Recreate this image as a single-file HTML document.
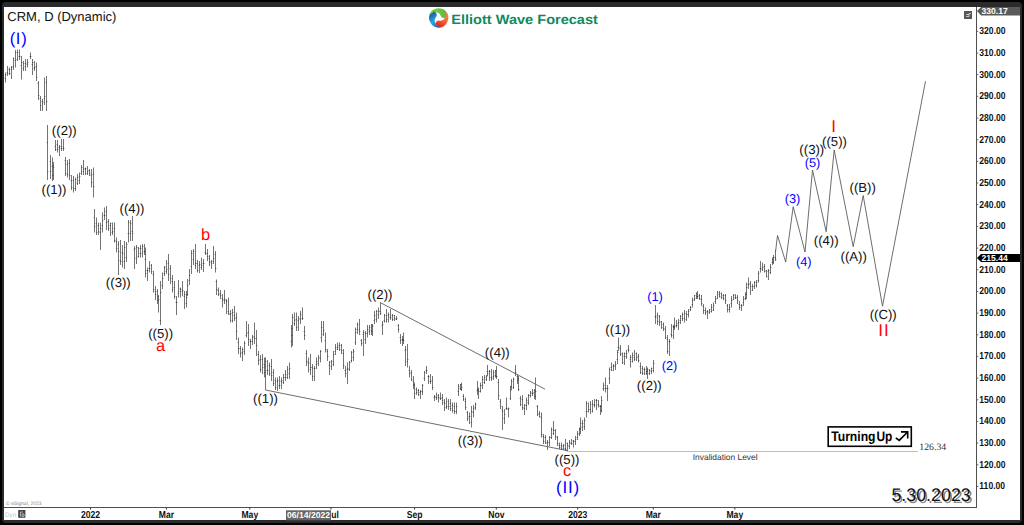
<!DOCTYPE html>
<html><head><meta charset="utf-8"><title>CRM Elliott Wave</title>
<style>
html,body{margin:0;padding:0;background:#000;}
#f{position:relative;width:1024px;height:525px;background:#000;overflow:hidden;font-family:"Liberation Sans",sans-serif;}
#g{position:absolute;left:2px;top:2.2px;width:1020px;height:520.5px;background:#2b2b2b;border-radius:4px;}
#w{position:absolute;left:4px;top:7px;width:1016px;height:513px;background:#fff;}
svg{position:absolute;left:0;top:0;}
text{font-family:"Liberation Sans",sans-serif;text-rendering:geometricPrecision;}
.ax{font-size:8.6px;font-weight:bold;fill:#111;}
.k{font-size:13.2px;fill:#111;}
.b{font-size:12.8px;fill:#0000ff;}
.B2{font-size:16.5px;fill:#0000ff;letter-spacing:0.7px;}
.r{font-size:16.4px;fill:#ff0000;}
.B3{font-size:17px;fill:#0000ff;letter-spacing:0.8px;}
.R2{font-size:17px;fill:#ff0000;letter-spacing:1px;}
</style></head><body>
<div id="f"><div id="g"></div><div id="w"></div>
<svg width="1024" height="525" viewBox="0 0 1024 525">
<defs>
<linearGradient id="gg" gradientUnits="userSpaceOnUse" x1="-9" y1="0" x2="8" y2="0"><stop offset="0" stop-color="#8ccb45"/><stop offset="1" stop-color="#5cb847"/></linearGradient>
<linearGradient id="gb" gradientUnits="userSpaceOnUse" x1="-9" y1="0" x2="8" y2="0"><stop offset="0" stop-color="#1d62ad"/><stop offset="0.5" stop-color="#2aa7e0"/><stop offset="1" stop-color="#1b58a3"/></linearGradient>
<linearGradient id="gr" gradientUnits="userSpaceOnUse" x1="-9" y1="0" x2="8" y2="0"><stop offset="0" stop-color="#f68c4c"/><stop offset="0.5" stop-color="#f2673a"/><stop offset="1" stop-color="#e5221b"/></linearGradient>
<clipPath id="tc"><rect x="-10" y="-8" width="4.6" height="8"/></clipPath>
<filter id="sh" x="-10%" y="-20%" width="130%" height="160%"><feGaussianBlur stdDeviation="0.6"/></filter>
</defs>
<!-- axes -->
<path d="M976.5 7V507.5M4 507.5H977" stroke="#505050" stroke-width="1" fill="none"/>
<text transform="translate(979.3 34.1) scale(1 1.17)" class="ax">320.00</text>
<path d="M977 31.3h1.3" stroke="#666" stroke-width="1"/>
<text transform="translate(979.3 55.8) scale(1 1.17)" class="ax">310.00</text>
<path d="M977 53.0h1.3" stroke="#666" stroke-width="1"/>
<text transform="translate(979.3 77.5) scale(1 1.17)" class="ax">300.00</text>
<path d="M977 74.7h1.3" stroke="#666" stroke-width="1"/>
<text transform="translate(979.3 99.1) scale(1 1.17)" class="ax">290.00</text>
<path d="M977 96.3h1.3" stroke="#666" stroke-width="1"/>
<text transform="translate(979.3 120.8) scale(1 1.17)" class="ax">280.00</text>
<path d="M977 118.0h1.3" stroke="#666" stroke-width="1"/>
<text transform="translate(979.3 142.5) scale(1 1.17)" class="ax">270.00</text>
<path d="M977 139.7h1.3" stroke="#666" stroke-width="1"/>
<text transform="translate(979.3 164.2) scale(1 1.17)" class="ax">260.00</text>
<path d="M977 161.4h1.3" stroke="#666" stroke-width="1"/>
<text transform="translate(979.3 185.8) scale(1 1.17)" class="ax">250.00</text>
<path d="M977 183.0h1.3" stroke="#666" stroke-width="1"/>
<text transform="translate(979.3 207.5) scale(1 1.17)" class="ax">240.00</text>
<path d="M977 204.7h1.3" stroke="#666" stroke-width="1"/>
<text transform="translate(979.3 229.2) scale(1 1.17)" class="ax">230.00</text>
<path d="M977 226.4h1.3" stroke="#666" stroke-width="1"/>
<text transform="translate(979.3 250.9) scale(1 1.17)" class="ax">220.00</text>
<path d="M977 248.1h1.3" stroke="#666" stroke-width="1"/>
<text transform="translate(979.3 272.5) scale(1 1.17)" class="ax">210.00</text>
<path d="M977 269.7h1.3" stroke="#666" stroke-width="1"/>
<text transform="translate(979.3 294.2) scale(1 1.17)" class="ax">200.00</text>
<path d="M977 291.4h1.3" stroke="#666" stroke-width="1"/>
<text transform="translate(979.3 315.9) scale(1 1.17)" class="ax">190.00</text>
<path d="M977 313.1h1.3" stroke="#666" stroke-width="1"/>
<text transform="translate(979.3 337.6) scale(1 1.17)" class="ax">180.00</text>
<path d="M977 334.8h1.3" stroke="#666" stroke-width="1"/>
<text transform="translate(979.3 359.2) scale(1 1.17)" class="ax">170.00</text>
<path d="M977 356.4h1.3" stroke="#666" stroke-width="1"/>
<text transform="translate(979.3 380.9) scale(1 1.17)" class="ax">160.00</text>
<path d="M977 378.1h1.3" stroke="#666" stroke-width="1"/>
<text transform="translate(979.3 402.6) scale(1 1.17)" class="ax">150.00</text>
<path d="M977 399.8h1.3" stroke="#666" stroke-width="1"/>
<text transform="translate(979.3 424.2) scale(1 1.17)" class="ax">140.00</text>
<path d="M977 421.4h1.3" stroke="#666" stroke-width="1"/>
<text transform="translate(979.3 445.9) scale(1 1.17)" class="ax">130.00</text>
<path d="M977 443.1h1.3" stroke="#666" stroke-width="1"/>
<text transform="translate(979.3 467.6) scale(1 1.17)" class="ax">120.00</text>
<path d="M977 464.8h1.3" stroke="#666" stroke-width="1"/>
<text transform="translate(979.3 489.3) scale(1 1.17)" class="ax">110.00</text>
<path d="M977 486.5h1.3" stroke="#666" stroke-width="1"/>
<text transform="translate(90.5 518.2) scale(1 1.17)" class="ax" text-anchor="middle">2022</text>
<path d="M90.5 507.5v2" stroke="#333" stroke-width="1"/>
<text transform="translate(166.4 518.2) scale(1 1.17)" class="ax" text-anchor="middle">Mar</text>
<path d="M166.4 507.5v2" stroke="#333" stroke-width="1"/>
<text transform="translate(249.8 518.2) scale(1 1.17)" class="ax" text-anchor="middle">May</text>
<path d="M249.8 507.5v2" stroke="#333" stroke-width="1"/>
<text transform="translate(414.6 518.2) scale(1 1.17)" class="ax" text-anchor="middle">Sep</text>
<path d="M414.6 507.5v2" stroke="#333" stroke-width="1"/>
<text transform="translate(496.3 518.2) scale(1 1.17)" class="ax" text-anchor="middle">Nov</text>
<path d="M496.3 507.5v2" stroke="#333" stroke-width="1"/>
<text transform="translate(577.7 518.2) scale(1 1.17)" class="ax" text-anchor="middle">2023</text>
<path d="M577.7 507.5v2" stroke="#333" stroke-width="1"/>
<text transform="translate(653.3 518.2) scale(1 1.17)" class="ax" text-anchor="middle">Mar</text>
<path d="M653.3 507.5v2" stroke="#333" stroke-width="1"/>
<text transform="translate(734.8 518.2) scale(1 1.17)" class="ax" text-anchor="middle">May</text>
<path d="M734.8 507.5v2" stroke="#333" stroke-width="1"/>
<path d="M331 507.5v2" stroke="#333" stroke-width="1"/>
<text transform="translate(331.3 518.2) scale(1 1.17)" class="ax">ul</text>
<!-- top price tag -->
<path d="M977 11l4 -4H1020V15.5H981z" fill="#5a5a5a"/>
<text x="981.5" y="13.9" class="ax" style="fill:#fff">330.17</text>
<rect x="964" y="11" width="8" height="8" fill="#555"/>
<path d="M966 16.5h3v-3h2M966 14.5h3" stroke="#ddd" stroke-width="0.8" fill="none"/>
<!-- current price tag -->
<path d="M977 258l4 -4H1020V262H981z" fill="#000"/>
<text x="981.5" y="261.2" class="ax" style="fill:#fff">215.44</text>
<!-- title -->
<text x="7.3" y="20.8" style="font-size:13px;fill:#111">CRM, D (Dynamic)</text>
<!-- logo -->
<g transform="translate(438.7 17.9)">
<g id="blade"><path d="M-9.27 -2.48 A9.6 9.6 0 0 1 9.02 -3.28 A3.7 3.7 0 0 1 1.8 -2.4 C0.5 -6.3 -6.5 -6.8 -9.27 -2.48z" fill="url(#gg)"/></g>
<path d="M-9.27 -2.48 A9.6 9.6 0 0 1 9.02 -3.28 A3.7 3.7 0 0 1 1.8 -2.4 C0.5 -6.3 -6.5 -6.8 -9.27 -2.48z" fill="url(#gr)" transform="rotate(120)"/>
<path d="M-9.27 -2.48 A9.6 9.6 0 0 1 9.02 -3.28 A3.7 3.7 0 0 1 1.8 -2.4 C0.5 -6.3 -6.5 -6.8 -9.27 -2.48z" fill="url(#gb)" transform="rotate(240)"/>
<path d="M-9.27 -2.48 A9.6 9.6 0 0 1 9.02 -3.28 A3.7 3.7 0 0 1 1.8 -2.4 C0.5 -6.3 -6.5 -6.8 -9.27 -2.48z" fill="url(#gg)" clip-path="url(#tc)"/>
</g>
<text x="451.3" y="23.5" style="font-size:13.3px;font-weight:bold;fill:#12895d" textLength="146.6" lengthAdjust="spacingAndGlyphs">Elliott Wave Forecast</text>
<!-- bars -->
<path d="M5.5 72.5V82.5M7.5 66.0V76.0M9.5 67.5V75.0M11.5 66.0V79.0M13.5 57.5V70.0M15.5 50.0V67.5M17.5 49.5V61.0M19.5 49.5V60.0M21.5 56.0V79.5M23.5 61.0V71.0M25.5 59.0V71.0M27.5 59.0V67.5M30.5 52.5V59.0M32.5 59.0V75.0M34.5 61.0V71.0M36.5 62.5V81.0M38.5 81.0V100.0M40.5 96.0V111.0M42.5 99.0V111.0M44.5 77.5V105.0M46.5 76.0V111.0M47.5 125.0V180.0M50.5 155.0V179.0M52.5 157.5V181.0M53.5 162.0V180.0M55.5 140.0V151.0M57.5 140.0V152.5M59.5 145.0V156.0M61.5 139.0V151.0M63.5 139.0V151.0M65.5 157.0V176.0M67.5 160.0V177.5M69.5 159.0V180.0M71.5 175.0V190.0M73.5 176.0V192.5M75.5 177.5V191.0M77.5 174.0V185.0M79.5 172.5V184.0M81.5 165.0V175.0M83.5 160.0V175.0M85.5 167.5V175.0M87.5 166.0V175.0M89.5 169.0V176.0M91.5 169.0V187.5M93.5 167.5V197.5M94.5 209.0V232.5M96.5 217.5V235.0M98.5 222.5V235.0M100.5 222.5V250.0M102.5 212.5V232.5M104.5 207.5V220.0M106.5 206.0V230.0M108.5 219.0V231.0M110.5 222.5V236.0M112.5 222.5V235.0M114.5 222.5V242.5M116.5 237.5V252.5M118.5 241.0V275.0M120.5 240.0V265.0M122.5 245.0V267.5M124.5 241.0V269.0M126.5 242.0V262.0M128.5 220.0V242.5M130.5 220.0V241.0M132.5 216.0V241.0M134.5 246.0V269.0M136.5 245.0V264.0M138.5 247.0V257.5M140.5 245.0V257.5M142.5 244.0V257.5M144.5 244.0V255.0M145.5 247.5V277.5M147.5 267.5V281.0M149.5 261.0V272.5M151.5 264.0V274.0M153.5 271.0V292.5M155.5 286.0V300.0M157.5 289.0V304.0M158.5 295.0V312.5M160.5 281.0V325.0M162.5 272.5V289.0M164.5 266.0V276.0M166.5 260.0V274.0M168.5 254.0V281.0M170.5 265.0V284.0M172.5 275.0V292.5M174.5 281.0V299.0M176.5 296.0V315.0M178.5 280.0V297.5M180.5 287.5V297.5M182.5 281.0V296.0M184.5 291.0V309.0M186.5 291.0V307.5M187.5 279.0V296.0M189.5 269.0V285.0M191.5 250.0V274.0M193.5 249.0V265.0M195.5 244.0V269.0M197.5 260.0V272.5M199.5 261.0V273.0M201.5 257.5V270.0M203.5 259.0V272.0M205.5 244.0V255.0M207.5 249.0V261.0M209.5 255.0V266.0M211.5 260.0V269.0M213.5 246.0V264.0M215.5 251.0V272.5M216.5 279.5V295.0M218.5 287.5V296.0M220.5 290.0V299.0M222.5 294.0V307.5M224.5 290.0V304.0M226.5 299.0V314.0M228.5 297.5V315.0M230.5 310.0V322.5M232.5 309.0V322.5M234.5 306.0V321.0M236.5 312.5V340.0M238.5 337.5V354.0M240.5 346.0V357.5M242.5 347.5V361.0M244.5 341.0V355.0M246.5 321.0V337.5M248.5 324.0V346.0M250.5 339.0V349.0M252.5 335.0V345.0M254.5 322.5V344.0M256.5 330.0V356.0M258.5 351.0V365.0M260.5 355.0V372.5M262.5 354.0V374.0M264.5 357.5V377.5M265.5 357.5V390.0M267.5 360.0V375.0M269.5 362.5V376.0M271.5 359.0V381.0M273.5 369.0V386.0M275.5 377.5V390.0M277.5 377.5V391.0M279.5 376.0V389.0M281.5 377.5V389.0M283.5 374.0V384.0M285.5 370.0V381.0M287.5 366.0V379.0M289.5 362.5V379.0M291.5 325.0V347.5M292.5 314.0V346.0M294.5 312.5V326.0M296.5 312.5V331.0M298.5 316.0V331.0M300.5 311.0V324.0M302.5 307.5V320.0M304.5 326.0V340.0M306.5 350.0V366.0M308.5 357.5V372.5M310.5 354.0V375.0M312.5 364.0V381.0M314.5 366.0V381.0M316.5 357.5V369.0M318.5 355.0V366.0M320.5 350.0V362.5M321.5 321.0V342.5M323.5 321.0V336.0M325.5 332.5V352.5M327.5 349.0V361.0M329.5 361.0V375.0M331.5 360.0V370.0M333.5 351.0V366.0M335.5 344.0V355.0M337.5 342.5V350.0M339.5 342.5V351.0M341.5 344.0V354.0M343.5 349.0V369.0M345.5 366.0V377.5M347.5 362.5V384.0M349.5 361.0V371.0M351.5 351.0V362.5M353.5 349.0V361.0M355.5 327.5V345.0M357.5 322.5V334.0M359.5 319.0V335.0M361.5 339.0V346.0M363.5 330.0V356.0M365.5 331.0V344.0M367.5 325.0V337.5M369.5 325.0V335.0M371.5 324.0V335.0M372.5 324.0V336.0M374.5 311.0V324.0M376.5 310.0V322.5M378.5 307.5V319.0M380.5 302.5V315.0M382.5 321.0V335.0M384.5 314.0V322.5M386.5 309.0V322.5M388.5 312.5V322.5M390.5 309.0V320.0M392.5 314.0V321.0M394.5 315.0V321.0M396.5 316.0V320.0M398.5 324.0V332.5M400.5 334.0V344.0M402.5 336.0V346.0M403.5 332.5V344.0M405.5 346.0V366.0M407.5 344.0V367.5M409.5 366.0V377.5M411.5 370.0V381.0M413.5 376.0V389.0M414.5 382.5V399.0M416.5 387.5V395.0M418.5 389.0V396.0M420.5 390.0V399.0M422.5 384.0V395.0M424.5 371.0V381.0M426.5 366.0V374.0M428.5 375.0V384.0M430.5 374.0V384.0M432.5 376.0V390.0M434.5 395.0V401.0M436.5 392.5V400.0M438.5 394.0V402.5M440.5 392.5V400.0M442.5 394.0V405.0M444.5 399.0V411.0M446.5 397.5V409.0M448.5 399.0V410.0M450.5 399.0V411.0M452.5 402.5V412.5M454.5 402.5V414.0M456.5 402.5V414.0M458.5 384.0V396.0M460.5 384.0V390.0M461.5 382.5V391.0M463.5 394.0V401.0M465.5 397.5V410.0M467.5 411.0V421.0M469.5 412.5V424.0M471.5 406.0V427.5M473.5 405.0V417.5M475.5 402.5V410.0M477.5 381.0V395.0M478.5 387.5V399.0M480.5 382.5V392.5M482.5 376.0V389.0M484.5 375.0V384.0M486.5 375.0V381.0M487.5 365.0V376.0M489.5 370.0V381.0M491.5 369.0V381.0M493.5 370.0V380.0M495.5 370.0V377.5M496.5 366.0V379.0M498.5 379.0V400.0M500.5 399.0V409.0M502.5 406.0V430.0M504.5 409.0V424.0M506.5 397.5V410.0M508.5 407.5V417.5M510.5 386.0V400.0M511.5 379.0V390.0M513.5 377.5V389.0M515.5 365.0V376.0M517.5 374.0V384.0M518.5 376.0V391.0M520.5 396.0V406.0M522.5 395.0V410.0M524.5 404.0V415.0M526.5 397.5V410.0M528.5 394.0V405.0M530.5 391.0V397.5M532.5 389.0V396.0M534.5 389.0V399.0M535.5 377.5V400.0M537.5 405.0V416.0M539.5 411.0V417.5M541.5 412.5V437.5M543.5 434.0V444.0M545.5 435.0V444.0M547.5 440.0V450.0M549.5 436.0V446.0M551.5 427.5V439.0M553.5 421.0V435.0M555.5 429.0V440.0M557.5 436.0V446.0M559.5 442.5V449.0M561.5 442.5V450.0M563.5 444.0V450.0M565.5 439.0V451.0M567.5 442.5V451.0M569.5 440.0V449.0M571.5 439.0V445.0M573.5 440.0V447.5M575.5 436.0V445.0M577.5 431.0V440.0M579.5 427.5V436.0M580.5 417.5V434.0M582.5 420.0V431.0M584.5 417.5V430.0M586.5 401.0V417.5M588.5 402.5V412.5M590.5 401.0V414.0M592.5 400.0V412.5M594.5 399.0V407.5M596.5 399.0V410.0M598.5 400.0V407.5M600.5 405.0V415.0M601.5 396.0V412.5M603.5 382.5V391.0M605.5 377.5V392.5M607.5 385.0V401.0M609.5 367.5V384.0M611.5 362.5V371.0M613.5 364.0V371.0M615.5 361.0V370.0M617.5 350.0V364.0M618.5 337.5V351.0M620.5 345.0V356.0M622.5 352.5V364.0M624.5 352.5V365.0M626.5 350.0V359.0M628.5 345.0V352.5M630.5 355.0V367.5M632.5 352.5V362.5M634.5 350.0V361.0M636.5 352.5V361.0M638.5 354.0V362.5M640.5 362.5V374.0M642.5 366.0V375.0M644.5 367.5V375.0M646.5 366.0V375.0M647.5 367.5V379.0M649.5 369.0V375.0M651.5 367.5V374.0M653.5 360.0V372.5M655.5 305.0V324.0M657.5 312.5V325.0M659.5 315.0V326.0M661.5 321.0V329.0M663.5 322.5V331.0M665.5 326.0V339.0M667.5 335.0V354.0M669.5 339.0V356.0M671.5 324.0V337.5M673.5 325.0V339.0M674.5 317.5V330.0M676.5 320.0V327.5M678.5 319.0V330.0M680.5 315.0V324.0M682.5 312.5V321.0M684.5 310.0V322.5M686.5 311.0V321.0M688.5 309.0V317.5M690.5 306.0V311.0M692.5 297.5V307.5M694.5 295.0V301.0M696.5 292.5V299.0M697.5 291.0V299.0M699.5 294.0V300.0M701.5 295.0V306.0M703.5 304.0V314.0M705.5 307.5V315.0M707.5 310.0V319.0M709.5 309.0V314.0M711.5 304.0V312.5M713.5 302.5V311.0M715.5 296.0V304.0M717.5 291.0V299.0M719.5 291.0V297.5M721.5 292.5V299.0M723.5 294.0V300.0M725.5 294.0V304.0M727.5 304.0V312.5M729.5 304.0V312.5M731.5 296.0V307.5M733.5 294.0V300.0M735.5 294.0V299.0M737.5 295.0V304.0M739.5 301.0V310.0M741.5 304.0V311.0M743.5 296.0V306.0M745.5 292.5V300.0M746.5 282.5V299.0M748.5 277.5V289.0M750.5 281.0V295.0M752.5 284.0V291.0M754.5 281.0V289.0M756.5 280.0V287.5M758.5 271.0V282.5M760.5 261.0V272.5M762.5 262.5V271.0M764.5 264.0V272.5M766.5 270.0V277.5M768.5 269.0V280.0M770.5 264.0V274.0M772.5 257.5V265.0M773.5 255.0V264.0M775.5 250.0V261.0" stroke="#747474" stroke-width="1" fill="none"/>
<path d="M4.3 78.5H6.0M5.0 74.5H6.7M6.3 72.5H8.0M7.0 73.5H8.7M8.3 69.5H10.0M9.0 73.5H10.7M10.3 69.5H12.0M11.0 67.5H12.7M12.3 66.5H14.0M13.0 58.5H14.7M14.3 60.5H16.0M15.0 52.5H16.7M16.3 59.5H18.0M17.0 52.5H18.7M18.3 56.5H20.0M19.0 56.5H20.7M20.3 65.5H22.0M21.0 62.5H22.7M22.3 68.5H24.0M23.0 63.5H24.7M24.3 66.5H26.0M25.0 63.5H26.7M26.3 64.5H28.0M27.0 62.5H28.7M29.3 56.5H31.0M30.0 56.5H31.7M31.3 64.5H33.0M32.0 62.5H33.7M33.3 68.5H35.0M34.0 67.5H35.7M35.3 66.5H37.0M36.0 77.5H37.7M37.3 83.5H39.0M38.0 95.5H39.7M39.3 98.5H41.0M40.0 105.5H41.7M41.3 101.5H43.0M42.0 102.5H43.7M43.3 98.5H45.0M44.0 96.5H45.7M45.3 82.5H47.0M46.0 101.5H47.7M46.3 142.5H48.0M47.0 171.5H48.7M49.3 161.5H51.0M50.0 171.5H51.7M51.3 166.5H53.0M52.0 175.5H53.7M52.3 165.5H54.0M53.0 167.5H54.7M54.3 146.5H56.0M55.0 149.5H56.7M56.3 144.5H58.0M57.0 149.5H58.7M58.3 147.5H60.0M59.0 146.5H60.7M60.3 148.5H62.0M61.0 146.5H62.7M62.3 148.5H64.0M63.0 148.5H64.7M64.3 160.5H66.0M65.0 173.5H66.7M66.3 164.5H68.0M67.0 174.5H68.7M68.3 163.5H70.0M69.0 175.5H70.7M70.3 180.5H72.0M71.0 187.5H72.7M72.3 180.5H74.0M73.0 188.5H74.7M74.3 188.5H76.0M75.0 179.5H76.7M76.3 183.5H78.0M77.0 177.5H78.7M78.3 180.5H80.0M79.0 176.5H80.7M80.3 173.5H82.0M81.0 167.5H82.7M82.3 171.5H84.0M83.0 169.5H84.7M84.3 168.5H86.0M85.0 168.5H86.7M86.3 173.5H88.0M87.0 171.5H88.7M88.3 170.5H90.0M89.0 173.5H90.7M90.3 175.5H92.0M91.0 182.5H92.7M92.3 174.5H94.0M93.0 186.5H94.7M93.3 217.5H95.0M94.0 226.5H95.7M95.3 223.5H97.0M96.0 232.5H97.7M97.3 225.5H99.0M98.0 231.5H99.7M99.3 232.5H101.0M100.0 228.5H101.7M101.3 225.5H103.0M102.0 220.5H103.7M103.3 215.5H105.0M104.0 215.5H105.7M105.3 211.5H107.0M106.0 222.5H107.7M107.3 221.5H109.0M108.0 228.5H109.7M109.3 225.5H111.0M110.0 223.5H111.7M111.3 232.5H113.0M112.0 231.5H113.7M113.3 228.5H115.0M114.0 240.5H115.7M115.3 241.5H117.0M116.0 248.5H117.7M117.3 244.5H119.0M118.0 251.5H119.7M119.3 260.5H121.0M120.0 261.5H121.7M121.3 252.5H123.0M122.0 253.5H123.7M123.3 261.5H125.0M124.0 247.5H125.7M125.3 257.5H127.0M126.0 244.5H127.7M127.3 233.5H129.0M128.0 222.5H129.7M129.3 233.5H131.0M130.0 223.5H131.7M131.3 231.5H133.0M132.0 233.5H133.7M133.3 249.5H135.0M134.0 248.5H135.7M135.3 258.5H137.0M136.0 247.5H137.7M137.3 256.5H139.0M138.0 248.5H139.7M139.3 253.5H141.0M140.0 248.5H141.7M141.3 253.5H143.0M142.0 246.5H143.7M143.3 251.5H145.0M144.0 251.5H145.7M144.3 259.5H146.0M145.0 273.5H146.7M146.3 270.5H148.0M147.0 270.5H148.7M148.3 268.5H150.0M149.0 268.5H150.7M150.3 265.5H152.0M151.0 271.5H152.7M152.3 274.5H154.0M153.0 289.5H154.7M154.3 291.5H156.0M155.0 294.5H156.7M156.3 291.5H158.0M157.0 300.5H158.7M157.3 296.5H159.0M158.0 299.5H159.7M159.3 320.5H161.0M160.0 292.5H161.7M161.3 285.5H163.0M162.0 278.5H163.7M163.3 273.5H165.0M164.0 267.5H165.7M165.3 271.5H167.0M166.0 269.5H167.7M167.3 263.5H169.0M168.0 274.5H169.7M169.3 268.5H171.0M170.0 278.5H171.7M171.3 281.5H173.0M172.0 289.5H173.7M173.3 287.5H175.0M174.0 296.5H175.7M175.3 302.5H177.0M176.0 302.5H177.7M177.3 293.5H179.0M178.0 291.5H179.7M179.3 288.5H181.0M180.0 289.5H181.7M181.3 291.5H183.0M182.0 290.5H183.7M183.3 296.5H185.0M184.0 294.5H185.7M185.3 303.5H187.0M186.0 297.5H187.7M186.3 294.5H188.0M187.0 285.5H188.7M188.3 280.5H190.0M189.0 275.5H190.7M190.3 266.5H192.0M191.0 253.5H192.7M192.3 259.5H194.0M193.0 251.5H194.7M194.3 265.5H196.0M195.0 263.5H196.7M196.3 263.5H198.0M197.0 270.5H198.7M198.3 265.5H200.0M199.0 264.5H200.7M200.3 267.5H202.0M201.0 265.5H202.7M202.3 263.5H204.0M203.0 263.5H204.7M204.3 252.5H206.0M205.0 253.5H206.7M206.3 253.5H208.0M207.0 256.5H208.7M208.3 258.5H210.0M209.0 262.5H210.7M210.3 261.5H212.0M211.0 263.5H212.7M212.3 261.5H214.0M213.0 258.5H214.7M214.3 254.5H216.0M215.0 268.5H216.7M215.3 281.5H217.0M216.0 289.5H217.7M217.3 290.5H219.0M218.0 294.5H219.7M219.3 293.5H221.0M220.0 295.5H221.7M221.3 298.5H223.0M222.0 299.5H223.7M223.3 300.5H225.0M224.0 299.5H225.7M225.3 300.5H227.0M226.0 301.5H227.7M227.3 311.5H229.0M228.0 313.5H229.7M229.3 314.5H231.0M230.0 313.5H231.7M231.3 320.5H233.0M232.0 312.5H233.7M233.3 315.5H235.0M234.0 318.5H235.7M235.3 317.5H237.0M236.0 331.5H237.7M237.3 342.5H239.0M238.0 348.5H239.7M239.3 348.5H241.0M240.0 353.5H241.7M241.3 352.5H243.0M242.0 349.5H243.7M243.3 351.5H245.0M244.0 343.5H245.7M245.3 335.5H247.0M246.0 333.5H247.7M247.3 332.5H249.0M248.0 339.5H249.7M249.3 341.5H251.0M250.0 341.5H251.7M251.3 341.5H253.0M252.0 337.5H253.7M253.3 336.5H255.0M254.0 338.5H255.7M255.3 338.5H257.0M256.0 345.5H257.7M257.3 354.5H259.0M258.0 360.5H259.7M259.3 359.5H261.0M260.0 369.5H261.7M261.3 359.5H263.0M262.0 367.5H263.7M263.3 364.5H265.0M264.0 372.5H265.7M264.3 366.5H266.0M265.0 361.5H266.7M266.3 370.5H268.0M267.0 370.5H268.7M268.3 365.5H270.0M269.0 373.5H270.7M270.3 366.5H272.0M271.0 375.5H272.7M272.3 372.5H274.0M273.0 383.5H274.7M274.3 380.5H276.0M275.0 387.5H276.7M276.3 381.5H278.0M277.0 380.5H278.7M278.3 385.5H280.0M279.0 385.5H280.7M280.3 381.5H282.0M281.0 380.5H282.7M282.3 382.5H284.0M283.0 377.5H284.7M284.3 377.5H286.0M285.0 374.5H286.7M286.3 377.5H288.0M287.0 369.5H288.7M288.3 373.5H290.0M289.0 368.5H290.7M290.3 341.5H292.0M291.0 328.5H292.7M291.3 335.5H293.0M292.0 317.5H293.7M293.3 323.5H295.0M294.0 320.5H295.7M295.3 319.5H297.0M296.0 327.5H297.7M297.3 320.5H299.0M298.0 318.5H299.7M299.3 319.5H301.0M300.0 314.5H301.7M301.3 318.5H303.0M302.0 318.5H303.7M303.3 331.5H305.0M304.0 335.5H305.7M305.3 353.5H307.0M306.0 361.5H307.7M307.3 362.5H309.0M308.0 363.5H309.7M309.3 369.5H311.0M310.0 367.5H311.7M311.3 367.5H313.0M312.0 376.5H313.7M313.3 368.5H315.0M314.0 368.5H315.7M315.3 364.5H317.0M316.0 361.5H317.7M317.3 363.5H319.0M318.0 357.5H319.7M319.3 358.5H321.0M320.0 351.5H321.7M320.3 337.5H322.0M321.0 327.5H322.7M322.3 334.5H324.0M323.0 330.5H324.7M324.3 340.5H326.0M325.0 349.5H326.7M326.3 351.5H328.0M327.0 356.5H328.7M328.3 365.5H330.0M329.0 362.5H330.7M330.3 366.5H332.0M331.0 361.5H332.7M332.3 364.5H334.0M333.0 354.5H334.7M334.3 351.5H336.0M335.0 347.5H336.7M336.3 349.5H338.0M337.0 347.5H338.7M338.3 345.5H340.0M339.0 349.5H340.7M340.3 345.5H342.0M341.0 350.5H342.7M342.3 353.5H344.0M343.0 365.5H344.7M344.3 370.5H346.0M345.0 373.5H346.7M346.3 369.5H348.0M347.0 368.5H348.7M348.3 369.5H350.0M349.0 362.5H350.7M350.3 360.5H352.0M351.0 352.5H352.7M352.3 357.5H354.0M353.0 351.5H354.7M354.3 342.5H356.0M355.0 332.5H356.7M356.3 329.5H358.0M357.0 324.5H358.7M358.3 329.5H360.0M359.0 331.5H360.7M360.3 340.5H362.0M361.0 343.5H362.7M362.3 334.5H364.0M363.0 332.5H364.7M364.3 339.5H366.0M365.0 333.5H366.7M366.3 333.5H368.0M367.0 329.5H368.7M368.3 331.5H370.0M369.0 327.5H370.7M370.3 330.5H372.0M371.0 331.5H372.7M371.3 325.5H373.0M372.0 326.5H373.7M373.3 320.5H375.0M374.0 315.5H375.7M375.3 319.5H377.0M376.0 311.5H377.7M377.3 314.5H379.0M378.0 311.5H379.7M379.3 311.5H381.0M380.0 313.5H381.7M381.3 325.5H383.0M382.0 324.5H383.7M383.3 320.5H385.0M384.0 315.5H385.7M385.3 321.5H387.0M386.0 319.5H387.7M387.3 315.5H389.0M388.0 314.5H389.7M389.3 317.5H391.0M390.0 317.5H391.7M391.3 315.5H393.0M392.0 319.5H393.7M393.3 315.5H395.0M394.0 318.5H395.7M395.3 319.5H397.0M396.0 318.5H397.7M397.3 325.5H399.0M398.0 329.5H399.7M399.3 337.5H401.0M400.0 340.5H401.7M401.3 339.5H403.0M402.0 339.5H403.7M402.3 340.5H404.0M403.0 340.5H404.7M404.3 350.5H406.0M405.0 349.5H406.7M406.3 361.5H408.0M407.0 359.5H408.7M408.3 370.5H410.0M409.0 373.5H410.7M410.3 372.5H412.0M411.0 379.5H412.7M412.3 381.5H414.0M413.0 384.5H414.7M413.3 385.5H415.0M414.0 393.5H415.7M415.3 389.5H417.0M416.0 392.5H417.7M417.3 390.5H419.0M418.0 394.5H419.7M419.3 392.5H421.0M420.0 391.5H421.7M421.3 391.5H423.0M422.0 385.5H423.7M423.3 378.5H425.0M424.0 372.5H425.7M425.3 370.5H427.0M426.0 370.5H427.7M427.3 376.5H429.0M428.0 376.5H429.7M429.3 381.5H431.0M430.0 381.5H431.7M431.3 380.5H433.0M432.0 387.5H433.7M433.3 397.5H435.0M434.0 396.5H435.7M435.3 397.5H437.0M436.0 397.5H437.7M437.3 395.5H439.0M438.0 397.5H439.7M439.3 398.5H441.0M440.0 398.5H441.7M441.3 397.5H443.0M442.0 400.5H443.7M443.3 402.5H445.0M444.0 403.5H445.7M445.3 407.5H447.0M446.0 406.5H447.7M447.3 401.5H449.0M448.0 406.5H449.7M449.3 403.5H451.0M450.0 408.5H451.7M451.3 405.5H453.0M452.0 410.5H453.7M453.3 406.5H455.0M454.0 411.5H455.7M455.3 411.5H457.0M456.0 406.5H457.7M457.3 391.5H459.0M458.0 386.5H459.7M459.3 388.5H461.0M460.0 384.5H461.7M460.3 389.5H462.0M461.0 387.5H462.7M462.3 396.5H464.0M463.0 399.5H464.7M464.3 401.5H466.0M465.0 407.5H466.7M466.3 412.5H468.0M467.0 418.5H468.7M468.3 416.5H470.0M469.0 416.5H470.7M470.3 422.5H472.0M471.0 411.5H472.7M472.3 412.5H474.0M473.0 408.5H474.7M474.3 407.5H476.0M475.0 404.5H476.7M476.3 390.5H478.0M477.0 389.5H478.7M477.3 389.5H479.0M478.0 391.5H479.7M479.3 391.5H481.0M480.0 385.5H481.7M481.3 385.5H483.0M482.0 379.5H483.7M483.3 382.5H485.0M484.0 377.5H485.7M485.3 379.5H487.0M486.0 376.5H487.7M486.3 371.5H488.0M487.0 373.5H488.7M488.3 371.5H490.0M489.0 371.5H490.7M490.3 377.5H492.0M491.0 378.5H492.7M492.3 376.5H494.0M493.0 372.5H494.7M494.3 375.5H496.0M495.0 370.5H496.7M495.3 376.5H497.0M496.0 376.5H497.7M497.3 382.5H499.0M498.0 395.5H499.7M499.3 401.5H501.0M500.0 406.5H501.7M501.3 409.5H503.0M502.0 411.5H503.7M503.3 418.5H505.0M504.0 414.5H505.7M505.3 408.5H507.0M506.0 408.5H507.7M507.3 409.5H509.0M508.0 408.5H509.7M509.3 398.5H511.0M510.0 390.5H511.7M510.3 386.5H512.0M511.0 381.5H512.7M512.3 387.5H514.0M513.0 379.5H514.7M514.3 373.5H516.0M515.0 372.5H516.7M516.3 376.5H518.0M517.0 380.5H518.7M517.3 378.5H519.0M518.0 389.5H519.7M519.3 398.5H521.0M520.0 404.5H521.7M521.3 399.5H523.0M522.0 407.5H523.7M523.3 408.5H525.0M524.0 405.5H525.7M525.3 405.5H527.0M526.0 400.5H527.7M527.3 402.5H529.0M528.0 395.5H529.7M529.3 395.5H531.0M530.0 392.5H531.7M531.3 393.5H533.0M532.0 393.5H533.7M533.3 392.5H535.0M534.0 390.5H535.7M534.3 396.5H536.0M535.0 391.5H536.7M536.3 406.5H538.0M537.0 414.5H538.7M538.3 413.5H540.0M539.0 416.5H540.7M540.3 417.5H542.0M541.0 434.5H542.7M542.3 436.5H544.0M543.0 441.5H544.7M544.3 437.5H546.0M545.0 443.5H546.7M546.3 442.5H548.0M547.0 442.5H548.7M548.3 442.5H550.0M549.0 437.5H550.7M550.3 437.5H552.0M551.0 429.5H552.7M552.3 433.5H554.0M553.0 430.5H554.7M554.3 430.5H556.0M555.0 436.5H556.7M556.3 437.5H558.0M557.0 443.5H558.7M558.3 445.5H560.0M559.0 447.5H560.7M560.3 445.5H562.0M561.0 448.5H562.7M562.3 446.5H564.0M563.0 445.5H564.7M564.3 448.5H566.0M565.0 449.5H566.7M566.3 443.5H568.0M567.0 445.5H568.7M568.3 446.5H570.0M569.0 442.5H570.7M570.3 443.5H572.0M571.0 443.5H572.7M572.3 440.5H574.0M573.0 441.5H574.7M574.3 441.5H576.0M575.0 439.5H576.7M576.3 437.5H578.0M577.0 433.5H578.7M578.3 434.5H580.0M579.0 429.5H580.7M579.3 428.5H581.0M580.0 423.5H581.7M581.3 427.5H583.0M582.0 423.5H583.7M583.3 426.5H585.0M584.0 420.5H585.7M585.3 411.5H587.0M586.0 403.5H587.7M587.3 411.5H589.0M588.0 409.5H589.7M589.3 409.5H591.0M590.0 404.5H591.7M591.3 411.5H593.0M592.0 404.5H593.7M593.3 404.5H595.0M594.0 405.5H595.7M595.3 400.5H597.0M596.0 400.5H597.7M597.3 404.5H599.0M598.0 405.5H599.7M599.3 406.5H601.0M600.0 406.5H601.7M600.3 410.5H602.0M601.0 400.5H602.7M602.3 388.5H604.0M603.0 385.5H604.7M604.3 388.5H606.0M605.0 388.5H606.7M606.3 388.5H608.0M607.0 388.5H608.7M608.3 378.5H610.0M609.0 369.5H610.7M610.3 367.5H612.0M611.0 370.5H612.7M612.3 366.5H614.0M613.0 365.5H614.7M614.3 366.5H616.0M615.0 364.5H616.7M616.3 359.5H618.0M617.0 352.5H618.7M617.3 347.5H619.0M618.0 347.5H619.7M619.3 348.5H621.0M620.0 354.5H621.7M621.3 353.5H623.0M622.0 362.5H623.7M623.3 356.5H625.0M624.0 353.5H625.7M625.3 356.5H627.0M626.0 353.5H627.7M627.3 349.5H629.0M628.0 350.5H629.7M629.3 359.5H631.0M630.0 357.5H631.7M631.3 361.5H633.0M632.0 355.5H633.7M633.3 357.5H635.0M634.0 359.5H635.7M635.3 353.5H637.0M636.0 357.5H637.7M637.3 356.5H639.0M638.0 360.5H639.7M639.3 366.5H641.0M640.0 372.5H641.7M641.3 368.5H643.0M642.0 373.5H643.7M643.3 369.5H645.0M644.0 369.5H645.7M645.3 373.5H647.0M646.0 371.5H647.7M646.3 371.5H648.0M647.0 369.5H648.7M648.3 373.5H650.0M649.0 370.5H650.7M650.3 371.5H652.0M651.0 368.5H652.7M652.3 370.5H654.0M653.0 363.5H654.7M654.3 316.5H656.0M655.0 317.5H656.7M656.3 315.5H658.0M657.0 321.5H658.7M658.3 316.5H660.0M659.0 322.5H660.7M660.3 321.5H662.0M661.0 327.5H662.7M662.3 324.5H664.0M663.0 328.5H664.7M664.3 329.5H666.0M665.0 337.5H666.7M666.3 339.5H668.0M667.0 351.5H668.7M668.3 341.5H670.0M669.0 341.5H670.7M670.3 334.5H672.0M671.0 335.5H672.7M672.3 326.5H674.0M673.0 327.5H674.7M673.3 327.5H675.0M674.0 326.5H675.7M675.3 325.5H677.0M676.0 325.5H677.7M677.3 323.5H679.0M678.0 322.5H679.7M679.3 320.5H681.0M680.0 316.5H681.7M681.3 318.5H683.0M682.0 314.5H683.7M683.3 318.5H685.0M684.0 313.5H685.7M685.3 319.5H687.0M686.0 314.5H687.7M687.3 314.5H689.0M688.0 311.5H689.7M689.3 309.5H691.0M690.0 307.5H691.7M691.3 304.5H693.0M692.0 300.5H693.7M693.3 299.5H695.0M694.0 295.5H695.7M695.3 298.5H697.0M696.0 293.5H697.7M696.3 296.5H698.0M697.0 296.5H698.7M698.3 295.5H700.0M699.0 298.5H700.7M700.3 299.5H702.0M701.0 303.5H702.7M702.3 306.5H704.0M703.0 310.5H704.7M704.3 310.5H706.0M705.0 312.5H706.7M706.3 311.5H708.0M707.0 311.5H708.7M708.3 312.5H710.0M709.0 309.5H710.7M710.3 311.5H712.0M711.0 307.5H712.7M712.3 310.5H714.0M713.0 305.5H714.7M714.3 301.5H716.0M715.0 299.5H716.7M716.3 298.5H718.0M717.0 292.5H718.7M718.3 294.5H720.0M719.0 296.5H720.7M720.3 293.5H722.0M721.0 297.5H722.7M722.3 295.5H724.0M723.0 298.5H724.7M724.3 295.5H726.0M725.0 300.5H726.7M726.3 305.5H728.0M727.0 309.5H728.7M728.3 309.5H730.0M729.0 307.5H730.7M730.3 303.5H732.0M731.0 300.5H732.7M732.3 299.5H734.0M733.0 295.5H734.7M734.3 297.5H736.0M735.0 298.5H736.7M736.3 297.5H738.0M737.0 300.5H738.7M738.3 304.5H740.0M739.0 307.5H740.7M740.3 305.5H742.0M741.0 305.5H742.7M742.3 302.5H744.0M743.0 299.5H744.7M744.3 298.5H746.0M745.0 294.5H746.7M745.3 292.5H747.0M746.0 287.5H747.7M747.3 284.5H749.0M748.0 284.5H749.7M749.3 283.5H751.0M750.0 286.5H751.7M751.3 290.5H753.0M752.0 286.5H753.7M753.3 286.5H755.0M754.0 282.5H755.7M755.3 285.5H757.0M756.0 282.5H757.7M757.3 280.5H759.0M758.0 273.5H759.7M759.3 268.5H761.0M760.0 268.5H761.7M761.3 269.5H763.0M762.0 267.5H763.7M763.3 266.5H765.0M764.0 271.5H765.7M765.3 270.5H767.0M766.0 276.5H767.7M767.3 271.5H769.0M768.0 270.5H769.7M769.3 272.5H771.0M770.0 267.5H771.7M771.3 262.5H773.0M772.0 259.5H773.7M772.3 261.5H774.0M773.0 257.5H774.7M774.3 257.5H776.0M775.0 259.5H776.7" stroke="rgba(0,0,0,0.27)" stroke-width="1" fill="none"/>
<!-- trend lines -->
<path d="M265.5 390L567.5 450.7M380.2 302.5L545 389.2" stroke="#5c5c5c" stroke-width="0.9" fill="none"/>
<path d="M775.5 252 L777.5 235.5 L785.7 262 L793.2 206.7 L805 252 L812.5 170 L826.2 231.7 L834.2 150 L853.2 246.7 L863.2 195.5 L882.5 306.2 L925.5 81.2" stroke="#5c5c5c" stroke-width="0.9" fill="none" stroke-linejoin="miter"/>
<!-- invalidation -->
<path d="M566.6 451.5H917.8" stroke="#74f074" stroke-width="1"/>
<text x="692.8" y="460.3" style="font-size:8.4px;fill:#333">Invalidation Level</text>
<text x="919.3" y="450" style="font-family:'Liberation Serif',serif;font-size:9.8px;fill:#333">126.34</text>
<!-- turning up -->
<rect x="828.2" y="426.9" width="83.1" height="19.4" fill="#fff" stroke="#000" stroke-width="1.6"/>
<text x="831.2" y="440.9" style="font-size:13.7px;font-weight:bold;fill:#000" textLength="44.3" lengthAdjust="spacingAndGlyphs">Turning</text>
<text x="876.4" y="440.9" style="font-size:13.7px;font-weight:bold;fill:#000" textLength="15.9" lengthAdjust="spacingAndGlyphs">Up</text>
<path d="M895.8 437.8L899.2 440.4L907.4 432.2M901 431.9H907.7V438.6" stroke="#000" stroke-width="1.6" fill="none"/>
<!-- date -->
<text x="893.2" y="502.8" style="font-size:18.2px;fill:#8a8a8a" filter="url(#sh)" textLength="79.4" lengthAdjust="spacingAndGlyphs">5.30.2023</text>
<text x="891.4" y="501" style="font-size:18.2px;fill:#111" textLength="79.4" lengthAdjust="spacingAndGlyphs">5.30.2023</text>
<!-- bottom-left bits -->
<text x="6" y="504.8" style="font-size:5px;fill:#8a8a8a">© eSignal, 2023</text>
<text x="5" y="516.8" style="font-size:6.4px;fill:#c4c4c4">Dyn</text>
<rect x="18.2" y="510" width="7.2" height="7.8" fill="#444"/>
<path d="M20.5 516.5v-4.5h2.5M22 516.5v-2.5h2v2.5z" stroke="#ddd" stroke-width="0.7" fill="none"/>
<!-- date box -->
<rect x="286" y="510.3" width="45" height="10" fill="#666"/>
<text x="287" y="518" class="ax" style="fill:#fff" textLength="43" lengthAdjust="spacingAndGlyphs">06/14/2022</text>
<!-- labels -->
<text x="64.3" y="130.4" class="k" text-anchor="middle" dominant-baseline="central">((2))</text>
<text x="54" y="189.2" class="k" text-anchor="middle" dominant-baseline="central">((1))</text>
<text x="132" y="208.5" class="k" text-anchor="middle" dominant-baseline="central">((4))</text>
<text x="118.3" y="282.8" class="k" text-anchor="middle" dominant-baseline="central">((3))</text>
<text x="160.6" y="333.2" class="k" text-anchor="middle" dominant-baseline="central">((5))</text>
<text x="265.5" y="398.7" class="k" text-anchor="middle" dominant-baseline="central">((1))</text>
<text x="380" y="294.7" class="k" text-anchor="middle" dominant-baseline="central">((2))</text>
<text x="497.3" y="352.7" class="k" text-anchor="middle" dominant-baseline="central">((4))</text>
<text x="470.3" y="440.0" class="k" text-anchor="middle" dominant-baseline="central">((3))</text>
<text x="567" y="459.2" class="k" text-anchor="middle" dominant-baseline="central">((5))</text>
<text x="617.8" y="329.0" class="k" text-anchor="middle" dominant-baseline="central">((1))</text>
<text x="649.3" y="385.8" class="k" text-anchor="middle" dominant-baseline="central">((2))</text>
<text x="811.8" y="149.7" class="k" text-anchor="middle" dominant-baseline="central">((3))</text>
<text x="834.5" y="141.0" class="k" text-anchor="middle" dominant-baseline="central">((5))</text>
<text x="826.2" y="240.4" class="k" text-anchor="middle" dominant-baseline="central">((4))</text>
<text x="853.7" y="256.7" class="k" text-anchor="middle" dominant-baseline="central">((A))</text>
<text x="862.7" y="187.7" class="k" text-anchor="middle" dominant-baseline="central">((B))</text>
<text x="883.2" y="314.5" class="k" text-anchor="middle" dominant-baseline="central">((C))</text>
<text x="655" y="296.7" class="b" text-anchor="middle" dominant-baseline="central">(1)</text>
<text x="669.5" y="365.2" class="b" text-anchor="middle" dominant-baseline="central">(2)</text>
<text x="792.5" y="198.7" class="b" text-anchor="middle" dominant-baseline="central">(3)</text>
<text x="803.7" y="261.4" class="b" text-anchor="middle" dominant-baseline="central">(4)</text>
<text x="812.5" y="162.9" class="b" text-anchor="middle" dominant-baseline="central">(5)</text>
<text x="18.5" y="39.3" class="B2" text-anchor="middle" dominant-baseline="central">(I)</text>
<text x="568" y="487.0" class="B3" text-anchor="middle" dominant-baseline="central">(II)</text>
<text x="160.6" y="346.4" class="r" text-anchor="middle" dominant-baseline="central">a</text>
<text x="205.5" y="234.7" class="r" text-anchor="middle" dominant-baseline="central">b</text>
<text x="567.1" y="471.3" class="r" text-anchor="middle" dominant-baseline="central">c</text>
<text x="834.2" y="126" class="R2" text-anchor="middle" dominant-baseline="central">I</text>
<text x="883.9" y="330.6" class="R2" text-anchor="middle" dominant-baseline="central">II</text>
</svg>
</div></body></html>
